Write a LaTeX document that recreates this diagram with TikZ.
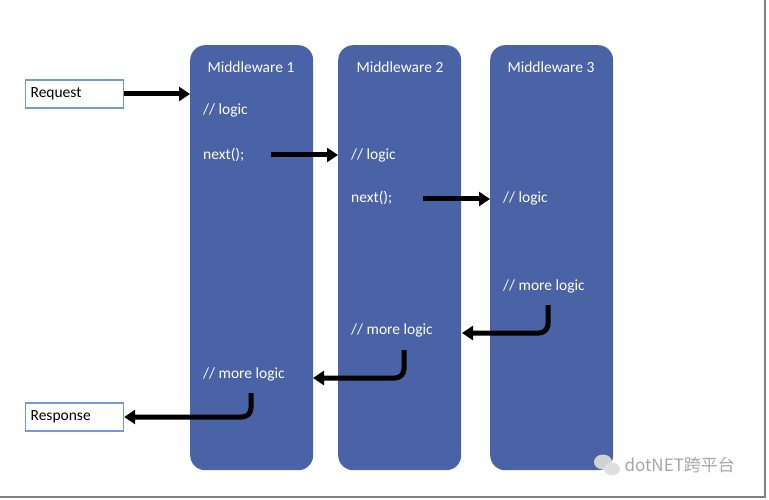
\documentclass[tikz,border=0pt]{standalone}
\usepackage{fontspec}
\setmainfont{Carlito}
\newfontfamily\cjk{Noto Sans CJK SC}
\usetikzlibrary{arrows.meta,positioning}
\definecolor{mwblue}{HTML}{4A62A6}
\definecolor{boxline}{HTML}{6F9BD8}
\tikzset{
  mw/.style={draw=none,fill=mwblue,rounded corners=15pt,minimum width=123pt,minimum height=425pt,anchor=north west},
  ttl/.style={text=white,font=\fontsize{15.5}{18}\selectfont},
  code/.style={text=white,font=\fontsize{15.5}{18}\selectfont,anchor=west,inner sep=0pt},
  io/.style={draw=boxline,line width=1.2pt,fill=white,minimum width=98pt,minimum height=28pt,anchor=west,font=\fontsize{15.5}{18}\selectfont,text width=88pt,align=left},
  flow/.style={line width=5pt,-{Triangle[length=11pt,width=14pt]}},
  back/.style={line width=5pt,rounded corners=9pt,-{Triangle[length=11pt,width=14pt]}}
}
\begin{document}
\begin{tikzpicture}[x=1pt,y=-1pt]
	\useasboundingbox (0,0) rectangle (769,500);
	\draw[gray,line width=1.5pt] (765,0) -- (765,497) -- (0,497);
	
	\node[mw] (MA) at (190,45) {};
	\node[mw] (MB) at (338,45) {};
	\node[mw] (MC) at (490,45) {};
	\node[ttl] (TA) at (251,67) {Middleware 1};
	\node[ttl] (TB) at (400,67) {Middleware 2};
	\node[ttl] (TC) at (551,67) {Middleware 3};
	
	\node[code] (LA) at (203,110) {// logic};
	\node[code] (NA) at (203,155) {next();};
	\node[code] (RA) at (203,374) {// more logic};
	\node[code] (LB) at (351,155) {// logic};
	\node[code] (NB) at (351,198) {next();};
	\node[code] (RB) at (351,330) {// more logic};
	\node[code] (LC) at (503,198) {// logic};
	\node[code] (RC) at (503,286) {// more logic};
	
	\node[io] (REQ) at (25,94) {Request};
	\node[io] (RES) at (25,417) {Response};
	
	\coordinate (SA) at (271,155);
	\coordinate (SB) at (423,199);
	\coordinate (UC) at (548,305);
	\coordinate (UB) at (404,350);
	\coordinate (UA) at (251,393);
	
	\draw[flow] (REQ.east) -- (MA.west |- REQ.east);
	\draw[flow] (SA) -- (MB.west |- SA);
	\draw[flow] (SB) -- (MC.west |- SB);
	\draw[back] (UC) |- (462,333);
	\draw[back] (UB) |- (313,378);
	\draw[back] (UA) |- (RES.east);
	
	\node[text=gray!70,font=\cjk\fontsize{17}{19}\selectfont,anchor=west] (WM) at (621,465) {dotNET跨平台};
	\fill[gray!35] (603,462) ellipse (9pt and 7.5pt);
	\fill[gray!25] (612,469) ellipse (8pt and 6.5pt);
\end{tikzpicture}
\end{document}
